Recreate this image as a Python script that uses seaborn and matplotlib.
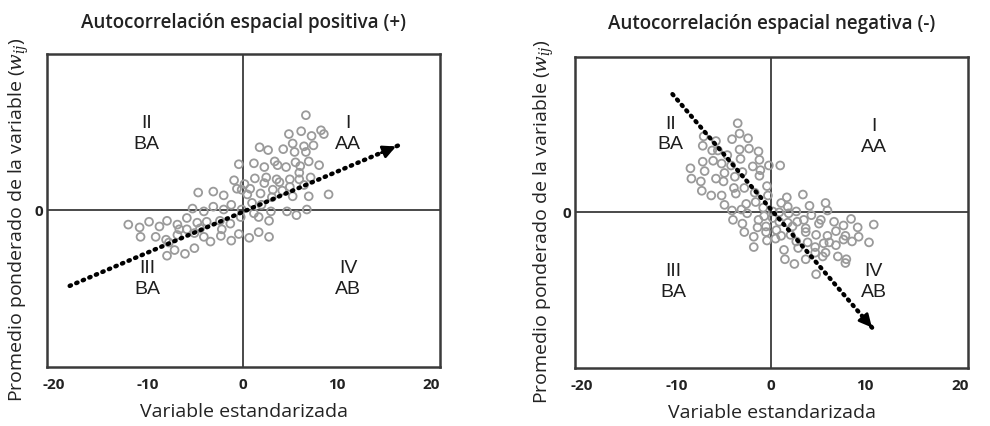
import pandas as pd
import seaborn as sns
import matplotlib.pyplot as plt
import numpy as np

# Puntos (variable estandarizada, promedio ponderado)
pos_x = [6.7, 4.9, 6.2, 7.3, 8.3, 8.6, 1.8, 2.7, 4.3, 5.3, 5.5, 6.5, 6.7, 7.5,
         -0.4, 1.2, 2.3, 3.4, 3.7, 4.6, 5.6, 6.1, 7.0, 8.1, -0.9, 0.2, 1.3, 2.5,
         3.6, 3.9, 5.0, 6.0, 6.0, 7.2, -0.6, 0.8, 1.9, 2.3, 3.2, 4.2, 5.0, 5.3,
         6.5, 7.0, 9.1, -4.7, -3.1, -2.0, -1.2, -0.1, 0.5, 1.0, 2.0, 3.1, 4.7,
         5.7, 6.8, -5.3, -4.1, -3.1, -2.0, -0.1, 1.2, 1.7, 3.0, 2.8, -12.1, -10.9,
         -9.9, -8.8, -8.0, -6.9, -5.9, -4.8, -3.8, -2.4, -1.3, -0.2, -10.8, -9.2,
         -8.1, -6.9, -5.9, -5.1, -4.1, -3.4, -2.3, -1.2, -0.4, 0.7, 1.7, 2.8,
         -8.0, -7.2, -6.1, -5.1, -7.8, -6.7, -4.5, -2.2]
pos_y = [10.1, 8.1, 8.4, 7.9, 8.5, 8.1, 6.7, 6.4, 6.5, 7.1, 6.2, 6.8, 6.2, 6.9,
         4.9, 5.0, 4.6, 5.2, 4.8, 4.6, 5.1, 4.7, 5.2, 4.8, 3.2, 2.8, 3.4, 3.5,
         3.3, 3.0, 3.3, 3.3, 4.0, 3.5, 2.3, 2.3, 1.8, 2.9, 2.2, 2.1, 2.5, 1.5,
         2.7, 1.5, 1.7, 1.9, 2.0, 1.6, 0.6, 2.2, 1.7, 0.8, 0.6, 1.4, -0.1,
         -0.5, 0.1, 0.2, -0.1, 0.4, 0.1, 0.1, -0.3, -0.7, -0.1, -1.1, -1.5, -1.8,
         -1.2, -1.7, -1.1, -1.5, -0.8, -1.3, -1.2, -1.1, -1.4, -0.7, -2.8, -2.8,
         -3.1, -2.6, -2.0, -2.4, -2.8, -3.3, -2.7, -3.2, -2.5, -2.9, -2.3, -2.8,
         -4.8, -4.2, -4.6, -4.0, -3.4, -2.0, -1.9, -2.0]

neg_x = [-3.5, -3.3, -4.1, -2.4, -7.1, -5.8, -7.2, -6.2, -5.6, -4.6, -3.3, -2.3,
         -1.3, -1.2, -3.2, -7.2, -6.1, -5.2, -4.2, -1.9, -1.1, -0.2, 1.0, -8.5,
         -7.0, -5.8, -4.9, -3.8, -3.0, -1.2, -8.4, -7.4, -5.0, -3.9, -2.8, -1.7,
         -0.4, -7.3, -6.3, -5.2, -3.7, -2.6, -1.6, -0.3, -4.9, 1.7, 3.4, 1.1,
         1.8, 2.7, 4.1, 5.8, 6.0, -4.1, -3.1, -2.5, -0.8, 0.2, 0.9, 1.9, 3.5,
         4.3, 5.3, 6.7, 7.7, 8.5, 9.2, 10.9, -4.0, -3.0, -1.3, -0.7, 0.2, 1.8,
         2.8, 3.7, 5.1, -2.8, -1.8, -0.5, 0.6, 1.1, 2.1, 2.7, 3.7, 4.8, 6.0,
         6.9, 7.9, 8.6, 9.3, 10.4, -1.8, -0.4, 0.5, 1.4, 2.9, 3.9, 4.7, 5.6,
         6.2, 6.9, 7.7, 1.5, 2.5, 3.7, 4.7, 5.5, 5.8, 7.1, 7.9, 8.0, 4.8, -1.4,
         -0.5, 0.9, 2.3]
neg_y = [9.5, 8.4, 7.8, 7.9, 8.1, 7.6, 7.1, 6.6, 6.6, 6.1, 6.7, 6.8, 6.5, 5.6,
         5.7, 5.4, 5.5, 5.2, 5.0, 4.9, 4.5, 5.0, 5.0, 4.7, 4.4, 3.6, 4.2, 3.8,
         4.3, 3.9, 3.6, 3.3, 3.3, 2.6, 2.6, 2.1, 2.8, 2.3, 1.8, 1.8, 2.0, 0.9,
         1.1, 1.8, 0.8, 1.6, 1.9, 1.0, 0.6, 0.1, 0.7, 1.0, 0.2, 0.2, 0.3, -0.1,
         0.5, 0.1, 0.0, -0.1, -0.8, -0.3, -0.8, -1.0, -1.4, -0.7, -1.6, -1.3,
         -0.8, -1.2, -0.8, -0.4, -0.6, -1.1, -1.0, -1.7, -1.2, -2.1, -2.6, -2.1,
         -1.9, -2.5, -2.4, -3.1, -2.1, -2.4, -2.5, -2.0, -2.5, -3.1, -2.6, -3.2,
         -3.7, -3.0, -2.8, -4.0, -3.8, -3.2, -3.7, -3.3, -3.2, -3.5, -2.9, -5.0,
         -5.5, -5.0, -4.3, -4.7, -4.3, -4.7, -5.4, -5.0, -6.6, -1.6, -1.5, -1.0,
         -1.5]

# Flechas de tendencia (inicio, fin)
pos_arrow = [(-18.3, -8.0), (16.5, 6.9)]
neg_arrow = [(-10.4, 12.6), (10.9, -12.5)]

# Etiquetas de cuadrante
quad_text = ['I\nAA', 'II\nBA', 'III\nBA', 'IV\nAB']
pos_quad_xy = [(11.2, 8.1), (-10.2, 8.1), (-10.1, -7.3), (11.2, -7.3)]
neg_quad_xy = [(10.9, 8.0), (-10.6, 8.3), (-10.3, -7.4), (10.9, -7.4)]

titles = ['Autocorrelación espacial positiva (+)', 'Autocorrelación espacial negativa (-)']
xticks = [-20, -10, 0, 10, 20]

sns.set_style('white')
plt.rcParams['font.family'] = ['Open Sans', 'DejaVu Sans']
plt.rcParams['mathtext.fontset'] = 'dejavuserif'

fig = plt.figure(figsize=(9.9, 4.26), dpi=100)
ax1 = fig.add_axes([0.0475, 0.1385, 0.397, 0.735])
ax2 = fig.add_axes([0.581, 0.136, 0.397, 0.731])

panels = [
    (ax1, pos_x, pos_y, pos_arrow, pos_quad_xy, titles[0], -0.040, 18.5),
    (ax2, neg_x, neg_y, neg_arrow, neg_quad_xy, titles[1], -0.050, 20),
]

for ax, xs, ys, arrow, quad_xy, title, ylab_x, tpad in panels:
    df = pd.DataFrame({'x': xs, 'y': ys})
    sns.scatterplot(data=df, x='x', y='y', ax=ax, marker='o', s=32,
                    facecolor='none', edgecolor='#9a9a9a', linewidth=1.3, zorder=3)

    ax.axhline(0, color='#3a3a3a', lw=1.3, zorder=2)
    ax.axvline(0, color='#3a3a3a', lw=1.3, zorder=2)

    # linea punteada + punta de flecha
    (x0, y0), (x1, y1) = arrow
    ax.plot([x0, x1], [y0, y1], color='black', lw=3.2,
            linestyle=(0, (0.3, 1.3)), dash_capstyle='round', zorder=4)
    ax.annotate('', xy=(x1, y1), xytext=(x1 - (x1 - x0) * 0.06, y1 - (y1 - y0) * 0.06),
                arrowprops=dict(arrowstyle='-|>', color='black', lw=2,
                                mutation_scale=19), zorder=5)

    for t, (qx, qy) in zip(quad_text, quad_xy):
        ax.text(qx, qy, t, ha='center', va='center', fontsize=14,
                family=['Liberation Sans', 'DejaVu Sans'], color='#1e1e1e',
                linespacing=1.3, zorder=6)

    ax.set_xlim(-20.7, 20.9)
    ax.set_ylim(-16.6, 16.6)
    ax.set_xticks(xticks)
    ax.set_xticklabels([str(v) for v in xticks])
    ax.set_yticks([0])
    ax.set_yticklabels(['0'])
    ax.tick_params(axis='both', length=0, labelsize=11, colors='#222222')
    ax.tick_params(axis='x', pad=8)
    ax.tick_params(axis='y', pad=3)
    for lab in ax.get_xticklabels() + ax.get_yticklabels():
        lab.set_fontweight('bold')

    for sp in ax.spines.values():
        sp.set_color('#3a3a3a')
        sp.set_linewidth(1.8)

    ax.set_title(title, fontsize=13.5, fontweight='semibold', color='#222222', pad=tpad)
    ax.set_xlabel('Variable estandarizada', fontsize=14, color='#222222')
    ax.set_ylabel(r'Promedio ponderado de la variable ($w_{ij}$)', fontsize=14,
                  color='#222222')
    ax.xaxis.set_label_coords(0.5, -0.115)
    ax.yaxis.set_label_coords(ylab_x, 0.47)

fig.savefig('out.png', dpi=100)
